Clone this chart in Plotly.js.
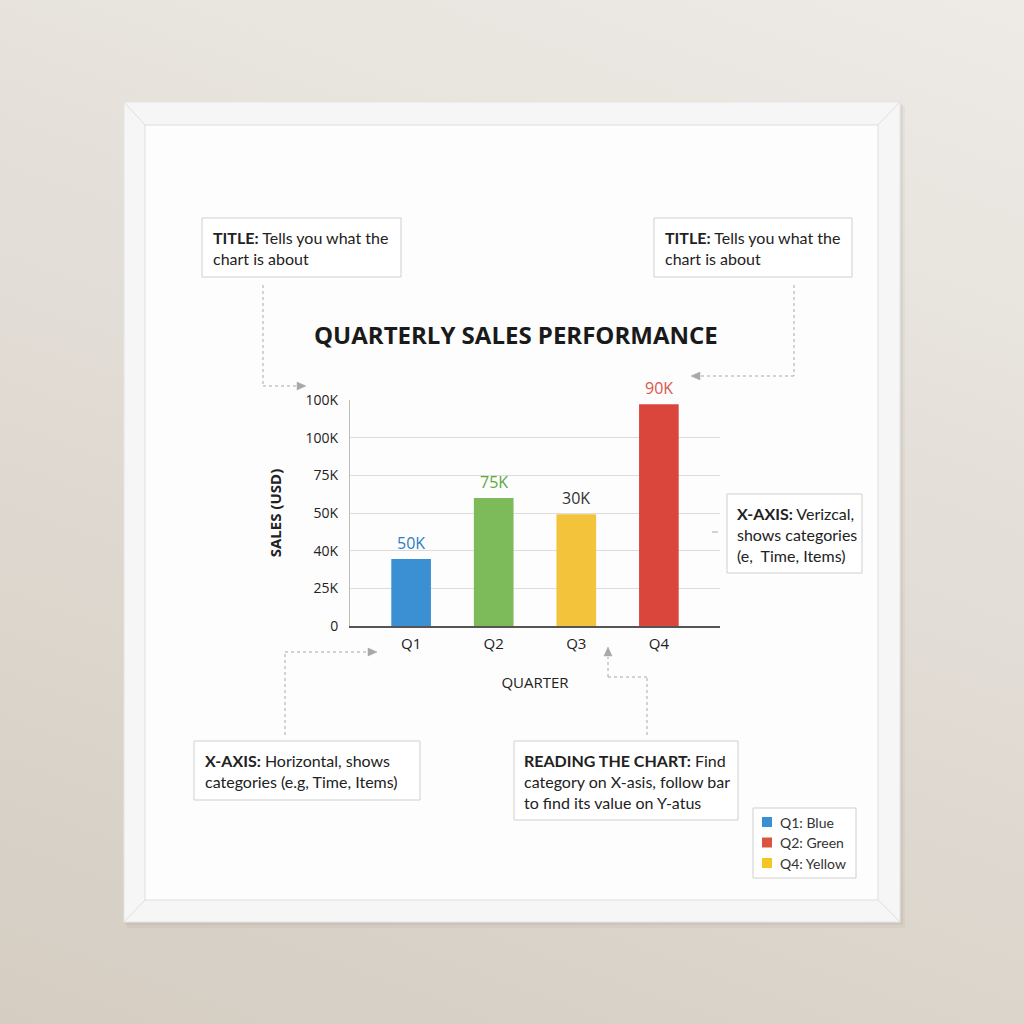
<!DOCTYPE html>
<html>
<head>
<meta charset="utf-8">
<script src="https://cdn.plot.ly/plotly-3.0.1.min.js"></script>
<style>
  html, body { margin:0; padding:0; width:1024px; height:1024px; overflow:hidden;
    background: linear-gradient(200deg, #eeebe6 0%, #e2ddd6 45%, #d5cdc2 100%); }
  #chart { width:1024px; height:1024px; }
</style>
</head>
<body>
<div id="chart"></div>
<script>
// ---- data ----
const quarters = ['Q1', 'Q2', 'Q3', 'Q4'];
// bar heights measured in grid steps (the axis has 7 evenly spaced ticks)
const barHeights = [1.78, 3.40, 2.97, 5.89];
const barLabels = ['50K', '75K', '30K', '90K'];
const barColors = ['#3b8fd3', '#7dba59', '#f3c43b', '#db463c'];
const barLabelColors = ['#2f7dc0', '#5fa83e', '#333333', '#d9574a'];
const yTickVals = [0, 1, 2, 3, 4, 5, 6];
const yTickText = ['0', '25K', '40K', '50K', '75K', '100K', '100K'];
const legendLabels = ['Q1: Blue', 'Q2: Green', 'Q4: Yellow'];
const legendColors = ['#3b8fd3', '#db553e', '#f5c623'];
const chartTitle = 'QUARTERLY SALES PERFORMANCE';
const xTitle = 'QUARTER';
const yTitle = 'SALES (USD)';
const notes = [
  '<b>TITLE:</b> Tells you what the<br>chart is about',
  '<b>TITLE:</b> Tells you what the<br>chart is about',
  '<b>X-AXIS:</b> Verizcal,<br>shows categories<br>(e,  Time, Items)',
  '<b>X-AXIS:</b> Horizontal, shows<br>categories (e.g, Time, Items)',
  '<b>READING THE CHART:</b> Find<br>category on X-asis, follow bar<br>to find its value on Y-atus'
];

// ---- layout helpers (pixel -> paper) ----
const L = 350, T = 400, W = 370, H = 226;
const px = X => (X - L) / W;
const py = Y => (T + H - Y) / H;
const rect = (x0, y0, x1, y1, fill, line, lw, layer) => ({
  type: 'rect', xref: 'paper', yref: 'paper', x0: px(x0), x1: px(x1), y0: py(y0), y1: py(y1),
  fillcolor: fill, line: { color: line || 'rgba(0,0,0,0)', width: lw === undefined ? 1 : lw }, layer: layer || 'below'
});
const seg = (x0, y0, x1, y1, color, dash, w) => ({
  type: 'line', xref: 'paper', yref: 'paper', x0: px(x0), x1: px(x1), y0: py(y0), y1: py(y1),
  line: { color: color, width: w || 1, dash: dash || 'solid' }, layer: 'below'
});
const tri = (pts, color) => ({
  type: 'path', xref: 'paper', yref: 'paper', layer: 'below',
  path: 'M' + pts.map(p => px(p[0]) + ',' + py(p[1])).join(' L') + ' Z',
  fillcolor: color, line: { color: color, width: 0.5 }
});

const dashC = '#a8a8a8';
const dsh = '3px,3px';
const shapes = [
  // frame shadow
  rect(127, 106, 905, 928, 'rgba(80,60,40,0.04)', null, 0),
  rect(125, 104, 903, 925, 'rgba(80,60,40,0.06)', null, 0),
  // frame
  rect(124, 102, 900, 922, '#f6f6f6', '#e4e4e4', 1),
  rect(145, 125, 878, 900, '#fdfdfd', '#dedede', 1),
  seg(124, 102, 145, 125, '#dedede'),
  seg(900, 102, 878, 125, '#dedede'),
  seg(124, 922, 145, 900, '#dedede'),
  seg(900, 922, 878, 900, '#dedede'),
  // note boxes
  rect(202, 218, 401, 277, '#ffffff', '#cfcfcf', 1),
  rect(654, 218, 852, 277, '#ffffff', '#cfcfcf', 1),
  rect(727, 494, 862, 573, '#ffffff', '#cfcfcf', 1),
  rect(194, 741, 420, 800, '#ffffff', '#cfcfcf', 1),
  rect(514, 741, 738, 820, '#ffffff', '#cfcfcf', 1),
  rect(753, 808, 856, 878, '#ffffff', '#cfcfcf', 1),
  // connectors
  seg(263, 285, 263, 386, dashC, dsh), seg(263, 386, 298, 386, dashC, dsh),
  tri([[306, 386], [297, 382], [297, 390]], dashC),
  seg(794, 285, 794, 376, dashC, dsh), seg(794, 376, 700, 376, dashC, dsh),
  tri([[691, 376], [700, 372], [700, 380]], dashC),
  seg(285, 735, 285, 652, dashC, dsh), seg(285, 652, 368, 652, dashC, dsh),
  tri([[377, 652], [368, 648], [368, 656]], dashC),
  seg(647, 735, 647, 677, dashC, dsh), seg(647, 677, 608, 677, dashC, dsh),
  seg(608, 677, 608, 657, dashC, dsh),
  tri([[608, 647], [604, 656], [612, 656]], dashC),
  seg(712, 532, 718, 532, dashC),
];
// legend squares
legendColors.forEach((c, i) => {
  const yc = 822 + i * 20.5;
  shapes.push(rect(762, yc - 5, 772, yc + 5, c, null, 0));
});

const noteFont = { family: 'Lato, "Open Sans", sans-serif', size: 16, color: '#222' };
const notePos = [[211, 226], [663, 226], [735, 502], [203, 749], [522, 749]];
const annotations = notes.map((t, i) => ({
  xref: 'paper', yref: 'paper', x: px(notePos[i][0]), y: py(notePos[i][1]),
  xanchor: 'left', yanchor: 'top', align: 'left', showarrow: false, text: t, font: noteFont
}));
legendLabels.forEach((t, i) => {
  annotations.push({ xref: 'paper', yref: 'paper', x: px(778), y: py(822 + i * 20.5),
    xanchor: 'left', yanchor: 'middle', showarrow: false, text: t,
    font: { family: 'Lato, "Open Sans", sans-serif', size: 14, color: '#333' } });
});
// value labels above bars
quarters.forEach((q, i) => {
  annotations.push({ x: q, y: barHeights[i], xref: 'x', yref: 'y', yanchor: 'bottom', yshift: 3,
    showarrow: false, text: barLabels[i],
    font: { family: '"Open Sans", sans-serif', size: 16, color: barLabelColors[i] } });
});
// chart title
annotations.push({ xref: 'paper', yref: 'paper', x: px(516), y: py(334), xanchor: 'center', yanchor: 'middle',
  showarrow: false, text: '<b>' + chartTitle + '</b>',
  font: { family: '"Open Sans", sans-serif', size: 24, color: '#1a1a1a' } });

const trace = {
  type: 'bar', x: quarters, y: barHeights, width: 0.48,
  marker: { color: barColors, line: { width: 0 } }, hoverinfo: 'skip'
};

const layout = {
  width: 1024, height: 1024,
  margin: { l: L, r: 1024 - L - W, t: T, b: 1024 - T - H, pad: 0 },
  paper_bgcolor: 'rgba(0,0,0,0)', plot_bgcolor: 'rgba(0,0,0,0)',
  showlegend: false,
  font: { family: '"Open Sans", sans-serif', color: '#222' },
  xaxis: {
    type: 'category', range: [-0.74, 3.74], showgrid: false, zeroline: false,
    showline: true, linecolor: '#555', linewidth: 1.5, ticks: '',
    tickfont: { size: 15, color: '#222' }, ticklabelstandoff: 3,
    title: { text: xTitle, font: { size: 15, color: '#222' }, standoff: 26 }
  },
  yaxis: {
    range: [0, 6], tickvals: yTickVals, ticktext: yTickText, showgrid: true, gridcolor: '#dcdcdc',
    gridwidth: 1, zeroline: false, showline: true, linecolor: '#bdbdbd', linewidth: 1, ticks: '',
    tickfont: { size: 14, color: '#222' }, ticklabelstandoff: 8,
    title: { text: '<b>' + yTitle + '</b>', font: { size: 15, color: '#222' }, standoff: 20 }
  },
  shapes: shapes,
  annotations: annotations
};

Plotly.newPlot('chart', [trace], layout, { staticPlot: true, displayModeBar: false });
</script>
</body>
</html>
